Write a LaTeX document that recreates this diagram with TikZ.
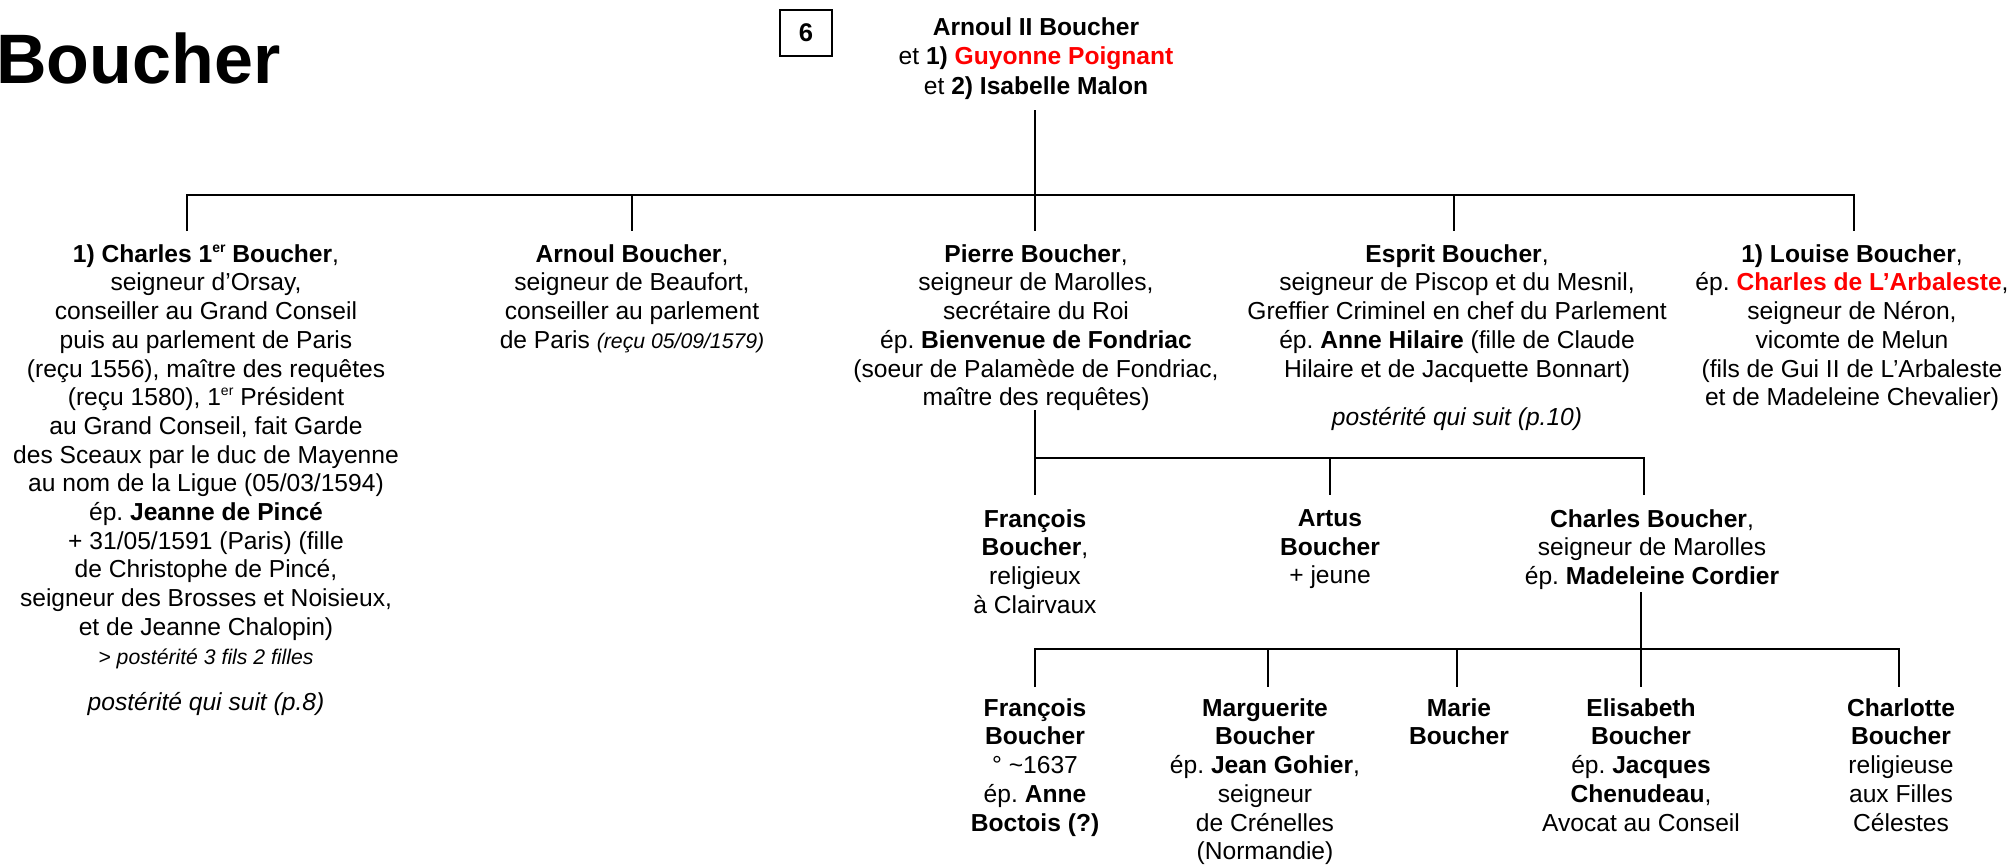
\documentclass[tikz,border=0pt]{standalone}
\usepackage{fontspec}
\setmainfont{Liberation Sans}
\frenchspacing
\newcommand{\ersup}{\raisebox{0.75ex}{\fontsize{7pt}{7pt}\selectfont er}}
\newcommand{\smallit}[1]{{\fontsize{10.6pt}{14.35pt}\selectfont\itshape #1}}
\begin{document}
\begin{tikzpicture}[x=0.5pt,y=-0.5pt,
  person/.style={align=center, anchor=north, inner sep=0pt, font=\fontsize{12.3pt}{14.35pt}\selectfont},
  conn/.style={line width=1.25pt}]
\useasboundingbox (0,0) rectangle (2011,864);
% title and page number
\node[anchor=base west, inner sep=0pt, font=\fontsize{35pt}{40pt}\selectfont\bfseries] (title) at (-4,83) {Boucher};
\node[draw, line width=1pt, minimum width=26pt, minimum height=23pt, inner sep=0pt, font=\fontsize{12.8pt}{14pt}\selectfont\bfseries] (num) at (806,33) {6};
% root
\node[person, font=\fontsize{12.3pt}{14.8pt}\selectfont] (root) at (1036,17) {\textbf{Arnoul II Boucher}\\ et \textbf{1) \textcolor{red}{Guyonne Poignant}}\\ et \textbf{2) Isabelle Malon}};
% level 1
\node[person] (c1) at (206,244) {\textbf{1) Charles 1\ersup{} Boucher},\\
seigneur d’Orsay,\\
conseiller au Grand Conseil\\
puis au parlement de Paris\\
(reçu 1556), maître des requêtes\\
(reçu 1580), 1\ersup{} Président\\
au Grand Conseil, fait Garde\\
des Sceaux par le duc de Mayenne\\
au nom de la Ligue (05/03/1594)\\
ép. \textbf{Jeanne de Pincé}\\
+ 31/05/1591 (Paris) (fille\\
de Christophe de Pincé,\\
seigneur des Brosses et Noisieux,\\
et de Jeanne Chalopin)\\
\smallit{> postérité 3 fils 2 filles}\\[9pt]
\textit{postérité qui suit (p.8)}};
\node[person] (c2) at (632,244) {\textbf{Arnoul Boucher},\\
seigneur de Beaufort,\\
conseiller au parlement\\
de Paris \smallit{(reçu 05/09/1579)}};
\node[person] (c3) at (1036,244) {\textbf{Pierre Boucher},\\
seigneur de Marolles,\\
secrétaire du Roi\\
ép. \textbf{Bienvenue de Fondriac}\\
(soeur de Palamède de Fondriac,\\
maître des requêtes)};
\node[person] (c4) at (1457,244) {\textbf{Esprit Boucher},\\
seigneur de Piscop et du Mesnil,\\
Greffier Criminel en chef du Parlement\\
ép. \textbf{Anne Hilaire} (fille de Claude\\
Hilaire et de Jacquette Bonnart)\\[10pt]
\textit{postérité qui suit (p.10)}};
\node[person] (c5) at (1852,244) {\textbf{1) Louise Boucher},\\
ép. \textbf{\textcolor{red}{Charles de L’Arbaleste}},\\
seigneur de Néron,\\
vicomte de Melun\\
(fils de Gui II de L’Arbaleste\\
et de Madeleine Chevalier)};
% level 2
\node[person] (g1) at (1035,509) {\textbf{François}\\ \textbf{Boucher},\\ religieux\\ à Clairvaux};
\node[person] (g2) at (1330,509) {\textbf{Artus}\\ \textbf{Boucher}\\ + jeune};
\node[person] (g3) at (1652,509) {\textbf{Charles Boucher},\\ seigneur de Marolles\\ ép. \textbf{Madeleine Cordier}};
% level 3
\node[person] (h1) at (1035,698) {\textbf{François}\\ \textbf{Boucher}\\ ° \textasciitilde1637\\ ép. \textbf{Anne}\\ \textbf{Boctois (?)}};
\node[person] (h2) at (1265,698) {\textbf{Marguerite}\\ \textbf{Boucher}\\ ép. \textbf{Jean Gohier},\\ seigneur\\ de Crénelles\\ (Normandie)};
\node[person] (h3) at (1459,698) {\textbf{Marie}\\ \textbf{Boucher}};
\node[person] (h4) at (1641,698) {\textbf{Elisabeth}\\ \textbf{Boucher}\\ ép. \textbf{Jacques}\\ \textbf{Chenudeau},\\ Avocat au Conseil};
\node[person] (h5) at (1901,698) {\textbf{Charlotte}\\ \textbf{Boucher}\\ religieuse\\ aux Filles\\ Célestes};
% connectors level 1
\coordinate (r0) at (1035,110);
\coordinate (bus1) at (1035,195);
\coordinate (k1) at (187,231);
\coordinate (k4) at (1454,231);
\coordinate (k5) at (1854,231);
\draw[conn] (r0) -- (bus1);
\draw[conn] (k1) |- (bus1) -| (k5);
\draw[conn] (c2.north |- bus1) -- (c2.north |- k1);
\draw[conn] (bus1) -- (bus1 |- k1);
\draw[conn] (k4 |- bus1) -- (k4);
% connectors level 2
\coordinate (p0) at (1035,410);
\coordinate (bus2) at (1035,458);
\coordinate (m3) at (1644,495);
\draw[conn] (p0) -- (bus2) -| (m3);
\draw[conn] (bus2) -- (bus2 |- m3);
\draw[conn] (g2.north |- bus2) -- (g2.north |- m3);
% connectors level 3
\coordinate (q0) at (1641,592);
\coordinate (bus3) at (1641,649);
\coordinate (n1) at (1035,687);
\coordinate (n2) at (1268,687);
\coordinate (n3) at (1457,687);
\coordinate (n5) at (1899,687);
\draw[conn] (q0) -- (bus3);
\draw[conn] (n1) |- (bus3) -| (n5);
\draw[conn] (n2 |- bus3) -- (n2);
\draw[conn] (n3 |- bus3) -- (n3);
\draw[conn] (bus3) -- (bus3 |- n1);
\end{tikzpicture}
\end{document}
